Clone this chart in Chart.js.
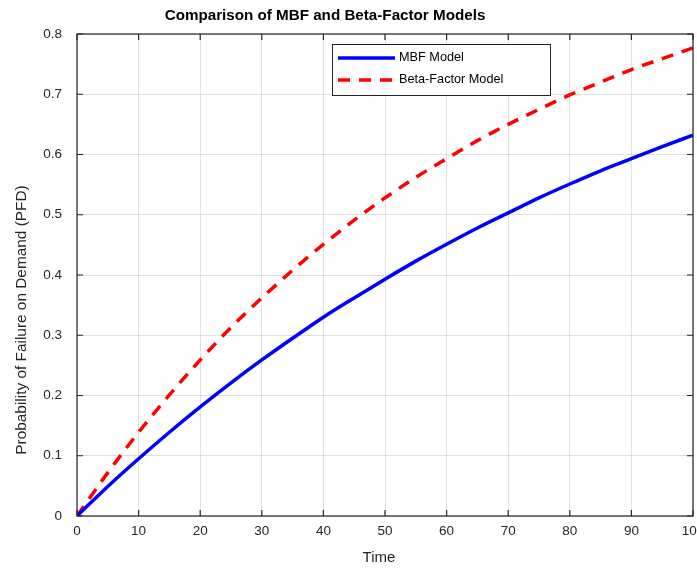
<!DOCTYPE html>
<html>
<head>
<meta charset="utf-8">
<script src="https://cdn.jsdelivr.net/npm/chart.js@4.4.1/dist/chart.umd.min.js"></script>
<style>
  html, body { margin: 0; padding: 0; background: #fff; }
  #wrap { position: relative; width: 697px; height: 568px; }
</style>
</head>
<body>
<div id="wrap"><canvas id="c" width="697" height="568"></canvas></div>
<script>
// ---- Data ----
const timeValues = [0, 5, 10, 15, 20, 25, 30, 35, 40, 45, 50, 55, 60, 65, 70, 75, 80, 85, 90, 95, 100];
const mbfValues  = [0, 0.049, 0.095, 0.139, 0.181, 0.221, 0.259, 0.295, 0.330, 0.362, 0.393, 0.423, 0.451, 0.478, 0.503, 0.528, 0.551, 0.573, 0.593, 0.613, 0.632];
const betaValues = [0, 0.072, 0.139, 0.201, 0.259, 0.313, 0.362, 0.408, 0.451, 0.491, 0.528, 0.562, 0.593, 0.623, 0.650, 0.675, 0.699, 0.720, 0.741, 0.759, 0.777];
const seriesLabels = ['MBF Model', 'Beta-Factor Model'];
const xTickValues = [0, 10, 20, 30, 40, 50, 60, 70, 80, 90, 100];
const yTickLabels = ['0', '0.1', '0.2', '0.3', '0.4', '0.5', '0.6', '0.7', '0.8'];
const chartTitle = 'Comparison of MBF and Beta-Factor Models';
const xAxisTitle = 'Time';
const yAxisTitle = 'Probability of Failure on Demand (PFD)';

const FONT = '"Liberation Sans", Arial, Helvetica, sans-serif';
const TEXT = '#262626';

const toPoints = (xs, ys) => xs.map((x, i) => ({ x: x, y: ys[i] }));

const decorPlugin = {
  id: 'decor',
  afterDraw(chart) {
    const ctx = chart.ctx;
    const a = chart.chartArea;
    const xs = chart.scales.x, ys = chart.scales.y;
    ctx.save();
    // box
    ctx.strokeStyle = TEXT;
    ctx.lineWidth = 1.2;
    ctx.strokeRect(a.left, a.top, a.right - a.left, a.bottom - a.top);
    // inward ticks
    const tl = 6;
    ctx.beginPath();
    xs.ticks.forEach(t => {
      const px = xs.getPixelForValue(t.value);
      ctx.moveTo(px, a.bottom); ctx.lineTo(px, a.bottom - tl);
      ctx.moveTo(px, a.top); ctx.lineTo(px, a.top + tl);
    });
    ys.ticks.forEach(t => {
      const py = ys.getPixelForValue(t.value);
      ctx.moveTo(a.left, py); ctx.lineTo(a.left + tl, py);
      ctx.moveTo(a.right, py); ctx.lineTo(a.right - tl, py);
    });
    ctx.stroke();

    // legend
    const lx = 332, ly = 44, lw = 218, lh = 51;
    ctx.fillStyle = '#fff';
    ctx.fillRect(lx, ly, lw, lh);
    ctx.strokeStyle = TEXT;
    ctx.lineWidth = 1;
    ctx.strokeRect(lx + 0.5, ly + 0.5, lw, lh);
    const rows = [58, 80];
    chart.data.datasets.forEach((ds, i) => {
      ctx.beginPath();
      ctx.strokeStyle = ds.borderColor;
      ctx.lineWidth = ds.borderWidth;
      ctx.setLineDash(ds.borderDash || []);
      ctx.moveTo(338, rows[i]);
      ctx.lineTo(395, rows[i]);
      ctx.stroke();
      ctx.setLineDash([]);
      ctx.fillStyle = '#000';
      ctx.font = '12.7px ' + FONT;
      ctx.textAlign = 'left';
      ctx.textBaseline = 'middle';
      ctx.fillText(ds.label, 399, rows[i] - 1);
    });

    // titles
    ctx.fillStyle = '#000';
    ctx.font = 'bold 15.2px ' + FONT;
    ctx.textAlign = 'center';
    ctx.textBaseline = 'middle';
    ctx.fillText(chartTitle, 325, 16);

    ctx.fillStyle = TEXT;
    ctx.font = '15px ' + FONT;
    ctx.fillText(xAxisTitle, 379, 558);

    ctx.save();
    ctx.translate(22, 320);
    ctx.rotate(-Math.PI / 2);
    ctx.font = '15.4px ' + FONT;
    ctx.fillText(yAxisTitle, 0, 0);
    ctx.restore();
    ctx.restore();
  }
};

new Chart(document.getElementById('c'), {
  type: 'line',
  data: {
    datasets: [
      {
        label: seriesLabels[0],
        data: toPoints(timeValues, mbfValues),
        borderColor: '#0000ff',
        borderWidth: 3.5,
        pointRadius: 0,
        fill: false,
        cubicInterpolationMode: 'monotone'
      },
      {
        label: seriesLabels[1],
        data: toPoints(timeValues, betaValues),
        borderColor: '#ff0000',
        borderWidth: 3.5,
        borderDash: [12, 9],
        pointRadius: 0,
        fill: false,
        cubicInterpolationMode: 'monotone'
      }
    ]
  },
  options: {
    responsive: false,
    animation: false,
    devicePixelRatio: 1,
    layout: { padding: { top: 34, right: 4, left: 0, bottom: 0 } },
    plugins: {
      legend: { display: false },
      title: { display: false },
      tooltip: { enabled: false }
    },
    scales: {
      x: {
        type: 'linear',
        min: 0, max: 100,
        afterBuildTicks(scale) { scale.ticks = xTickValues.map(v => ({ value: v })); },
        ticks: {
          color: TEXT,
          font: { family: FONT, size: 13.5 },
          padding: 7,
          maxRotation: 0,
          autoSkip: false,
          callback: v => String(v)
        },
        grid: { color: 'rgba(38,38,38,0.14)', drawTicks: false, lineWidth: 1 },
        border: { display: false },
        afterFit(scale) { scale.height = 52; scale.paddingLeft = 0; scale.paddingRight = 0; }
      },
      y: {
        type: 'linear',
        min: 0, max: 0.8,
        afterBuildTicks(scale) { scale.ticks = yTickLabels.map(v => ({ value: parseFloat(v) })); },
        ticks: {
          color: TEXT,
          font: { family: FONT, size: 13.5 },
          padding: 15,
          autoSkip: false,
          callback: (v, i) => yTickLabels[i]
        },
        grid: { color: 'rgba(38,38,38,0.14)', drawTicks: false, lineWidth: 1 },
        border: { display: false },
        afterFit(scale) { scale.width = 77; }
      }
    }
  },
  plugins: [decorPlugin]
});
</script>
</body>
</html>
